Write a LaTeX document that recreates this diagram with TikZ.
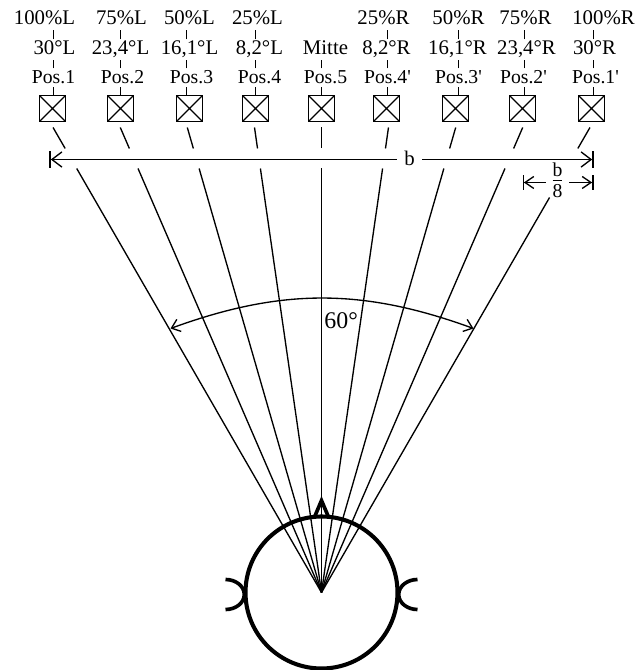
\documentclass[tikz,border=0pt]{standalone}
\usepackage{amsmath}
\usepackage{fontspec}
\setmainfont{Liberation Serif}
\usetikzlibrary{arrows.meta, calc}

\tikzset{
  lab/.style={anchor=base, inner sep=0pt, outer sep=0.03cm, text height=0.35cm, text depth=0.1cm, font=\fontsize{14.8}{17}\selectfont},
  poslab/.style={lab, text depth=0.05cm, font=\fontsize{14}{17}\selectfont},
  spk/.style={draw, line width=1.1pt, minimum size=0.65cm, inner sep=0pt,
    path picture={\draw[line width=0.9pt] (path picture bounding box.north west) -- (path picture bounding box.south east)
      (path picture bounding box.north east) -- (path picture bounding box.south west);}},
  thin line/.style={line width=0.95pt},
  dimleft/.style={thin line, {Bar[width=0.42cm]Straight Barb[length=0.25cm, width=0.38cm]}-},
  dimright/.style={thin line, -{Straight Barb[length=0.25cm, width=0.38cm]Bar[width=0.42cm]}},
  smallleft/.style={thin line, {Bar[width=0.36cm]Straight Barb[length=0.22cm, width=0.3cm]}-},
  smallright/.style={thin line, -{Straight Barb[length=0.22cm, width=0.3cm]Bar[width=0.36cm]}},
  headline/.style={line width=2.6pt}
}

\begin{document}
\begin{tikzpicture}
  \useasboundingbox (-8.0375,14.8125) rectangle (7.8625,-1.9375);

  % Head
  \coordinate (c) at (0,0);
  \draw[line width=2.9pt] (c) circle (1.9);
  \draw[headline, line join=miter] (-0.18,1.875) -- (0,2.3) -- (0.18,1.875);
  \draw[headline] (-2.4,0.325) arc[start angle=90, end angle=-90, x radius=0.47, y radius=0.375];
  \draw[headline] (2.4,0.325) arc[start angle=90, end angle=270, x radius=0.47, y radius=0.375];

  % Speakers
  \foreach \n/\x in {1/-6.725, 2/-5.025, 3/-3.3, 4/-1.65, 5/0, 6/1.625, 7/3.35, 8/5.025, 9/6.75}
    \node[spk] (box\n) at (\x,12.1) {};

  % Labels, top row
  \foreach \n/\x/\t in {1/-6.925/100\%L, 2/-5/75\%L, 3/-3.3/50\%L, 4/-1.6/25\%L,
                        6/1.55/25\%R, 7/3.425/50\%R, 8/5.1/75\%R, 9/7.05/100\%R}
    \node[lab] (pct\n) at (\x,14.2) {\t};

  % Labels, angles
  \foreach \n/\x/\t in {1/-6.675/{30°L}, 2/-5.025/{23,4°L}, 3/-3.3/{16,1°L}, 4/-1.55/{8,2°L}, 5/0.1/{Mitte},
                        6/1.625/{8,2°R}, 7/3.4/{16,1°R}, 8/5.125/{23,4°R}, 9/6.825/{30°R}}
    \node[lab] (ang\n) at (\x,13.45) {\t};

  % Labels, positions
  \foreach \n/\x/\t in {1/-6.7/Pos.1, 2/-4.975/Pos.2, 3/-3.25/Pos.3, 4/-1.55/Pos.4, 5/0.1/Pos.5,
                        6/1.65/Pos.4\textquotesingle, 7/3.425/Pos.3\textquotesingle, 8/5.05/Pos.2\textquotesingle, 9/6.85/Pos.1\textquotesingle}
    \node[poslab] (pos\n) at (\x,12.725) {\t};

  % Ticks between labels
  \foreach \n/\x in {1/-6.7, 2/-5.025, 3/-3.375, 4/-1.65, 5/0, 6/1.65, 7/3.425, 8/5.075, 9/6.8} {
    \coordinate (t\n) at (\x,0);
    \draw[thin line] (t\n |- box\n.north) -- (t\n |- pos\n.south);
    \draw[thin line] (t\n |- pos\n.north) -- (t\n |- ang\n.south);
  }
  \foreach \n in {1,2,3,4,6,7,8,9}
    \draw[thin line] (t\n |- ang\n.north) -- (t\n |- pct\n.south);

  % Rays, broken at the b line
  \foreach \n/\a/\h in {1/30/10.6, 2/23.4/10.6, 3/16.1/10.6, 4/8.2/10.6, 5/0/10.6,
                        6/-8.2/10.6, 7/-16.1/10.6, 8/-23.4/10.6, 9/-30/9.875} {
    \coordinate (up\n) at ({-11.625*tan(\a)},11.625);
    \coordinate (mid\n) at ({-11.1*tan(\a)},11.1);
    \coordinate (low\n) at ({-\h*tan(\a)},\h);
    \draw[thin line] (up\n) -- (mid\n);
    \draw[thin line] (low\n) -- (c);
  }

  % Width b
  \coordinate (bl) at (-6.8,10.825);
  \coordinate (br) at (6.8,10.825);
  \node[lab, anchor=center, text height=0.3cm, text depth=0cm, inner xsep=0.19cm, outer sep=0pt] (bw) at (2.2,10.825) {b};
  \draw[dimleft] (bl) -- (bw);
  \draw[dimright] (bw) -- (br);

  % b/8
  \coordinate (el) at (5.025,10.25);
  \coordinate (er) at (6.8,10.25);
  \node[inner sep=0.12cm, font=\fontsize{14}{17}\selectfont] (eighth) at (5.9,10.3) {$\textstyle\frac{\mbox{\rule[-1.5pt]{0pt}{1pt}b}}{\mbox{\rule{0pt}{11.5pt}8}}$};
  \draw[smallleft] (el) -- (eighth.west |- el);
  \draw[smallright] (eighth.east |- er) -- (er);

  % 60 degrees
  \coordinate (al) at (-3.775,6.6);
  \coordinate (ar) at (3.8,6.6);
  \draw[thin line, {Straight Barb[length=0.2cm, width=0.32cm]}-{Straight Barb[length=0.2cm, width=0.32cm]}] (al) to[bend left=20] (ar);
  \node[lab, font=\fontsize{17}{19}\selectfont] (sixty) at (0.49,6.6) {60°};
\end{tikzpicture}
\end{document}
